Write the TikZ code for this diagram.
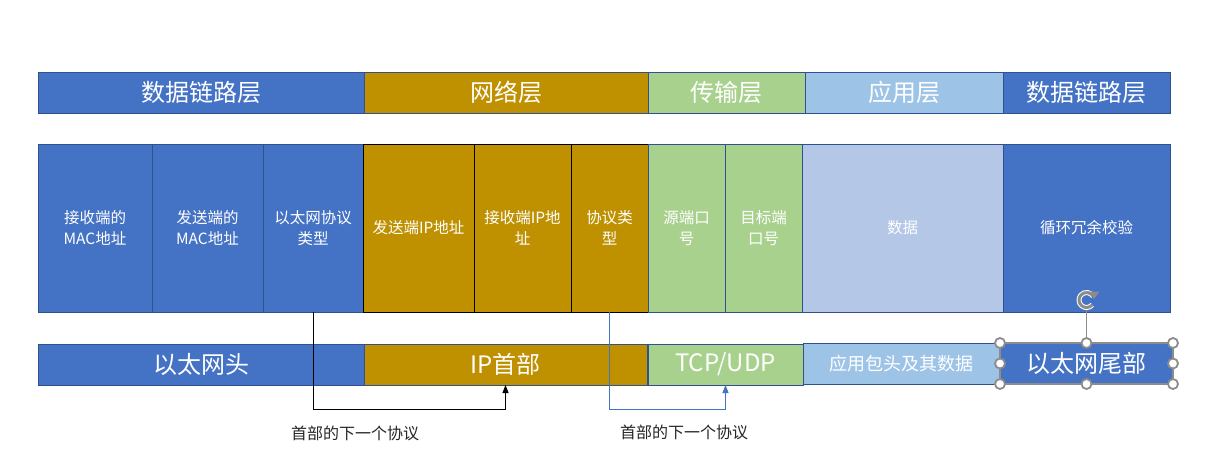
\documentclass[tikz,border=0pt]{standalone}
\usepackage{fontspec}
\setmainfont{Noto Sans CJK SC}
\usepackage{tikz}
\usetikzlibrary{arrows.meta}
\definecolor{linkblue}{HTML}{4472C4}
\definecolor{netgold}{HTML}{BF9000}
\definecolor{transgreen}{HTML}{A9D18E}
\definecolor{appsky}{HTML}{9DC3E6}
\definecolor{datasky}{HTML}{B4C7E7}
\definecolor{frameblue}{HTML}{2F528F}
\definecolor{handlegray}{HTML}{8C8C8C}
\definecolor{labelgray}{HTML}{262626}

\tikzset{
  box/.style={draw=frameblue, line width=1pt, text=white, inner sep=0pt,
              outer sep=0pt, anchor=north west},
  layer/.style={box, minimum height=41pt, font=\fontsize{24}{28}\selectfont},
  field/.style={box, minimum height=168pt, align=center,
                font=\fontsize{15.5}{21}\selectfont},
  hint/.style={text=labelgray, font=\fontsize{16}{19}\selectfont},
  handle/.style={draw=handlegray, fill=white, line width=1.8pt},
}

\begin{document}
\begin{tikzpicture}[x=1pt,y=-1pt]
  \useasboundingbox[fill=white] (0,0) rectangle (1215,466);
  % Layer names
  \node[layer, fill=linkblue, minimum width=326pt] (dltop) at (38,72) {数据链路层};
  \node[layer, fill=netgold, minimum width=284pt] (nettop) at (364,72) {网络层};
  \node[layer, fill=transgreen, minimum width=157pt] (transtop) at (648,72) {传输层};
  \node[layer, fill=appsky, minimum width=198pt] (apptop) at (805,72) {应用层};
  \node[layer, fill=linkblue, minimum width=167pt] (dltail) at (1003,72) {数据链路层};
  % Header fields
  \node[field, fill=linkblue, minimum width=114pt] (dstmac) at (38,144) {接收端的\\MAC地址};
  \node[field, fill=linkblue, minimum width=111pt] (srcmac) at (152,144) {发送端的\\MAC地址};
  \node[field, fill=linkblue, minimum width=100pt] (ethtype) at (263,144) {以太网协议\\类型};
  \node[field, fill=netgold, draw=black, minimum width=111pt] (srcip) at (363,144) {发送端IP地址};
  \node[field, fill=netgold, draw=black, minimum width=97pt] (dstip) at (474,144) {接收端IP地\\址};
  \node[field, fill=netgold, draw=black, minimum width=77pt] (proto) at (571,144) {协议类\\型};
  \node[field, fill=transgreen, minimum width=77pt] (srcport) at (648,144) {源端口\\号};
  \node[field, fill=transgreen, minimum width=77pt] (dstport) at (725,144) {目标端\\口号};
  \node[field, fill=datasky, minimum width=201pt] (payload) at (802,144) {数据};
  \node[field, fill=linkblue, minimum width=167pt] (crc) at (1003,144) {循环冗余校验};
  % Packet parts
  \node[layer, fill=linkblue, minimum width=326pt] (ethhead) at (38,344) {以太网头};
  \node[layer, fill=netgold, minimum width=283pt] (iphead) at (364,344) {IP首部};
  \node[layer, fill=transgreen, minimum width=155pt] (tcphead) at (648,344) {TCP/UDP};
  \node[layer, fill=appsky, minimum width=197pt, font=\fontsize{18}{22}\selectfont]
    (appdata) at (803,343) {应用包头及其数据};
  \node[layer, fill=linkblue, draw=handlegray, line width=1.5pt, minimum width=173pt]
    (ethtail) at (1000,343) {以太网尾部};
  % Next protocol links
  \draw[black, line width=1pt, -{Triangle[length=8pt,width=6pt]}]
    (ethtype.south) -- ++(0,97) -| (iphead.south);
  \draw[linkblue, line width=1pt, -{Triangle[length=8pt,width=6pt]}]
    (proto.south) -- ++(0,97) -| (tcphead.south);
  \node[hint] (nexthint) at (355,433) {首部的下一个协议};
  \node[hint] (nexthint2) at (684,432) {首部的下一个协议};
  % Selection handles
  \path (ethtail.north) ++(0,-43) coordinate (rot);
  \draw[handlegray, line width=1pt] (ethtail.north) -- ++(0,-33);
  \begin{scope}[shift={(rot)}, x=1pt, y=1pt]
    \draw[white, line width=5pt] (-40:7.5) arc (-40:-330:7.5);
    \draw[handlegray, line width=3pt] (-40:7.5) arc (-40:-330:7.5);
    \fill[handlegray] (1.5,8.5) -- (13,8.5) -- (7.5,1) -- cycle;
  \end{scope}
  \foreach \a in {north west,north,north east,west,east,south west,south,south east}
    \draw[handle] (ethtail.\a) circle (5pt);
\end{tikzpicture}
\end{document}
